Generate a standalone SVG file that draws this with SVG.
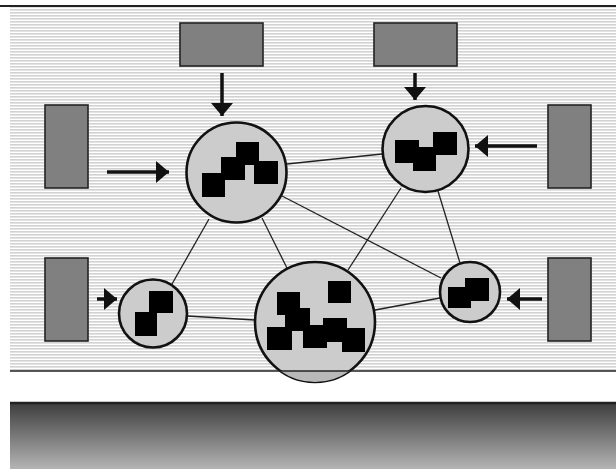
<svg xmlns="http://www.w3.org/2000/svg" width="616" height="469" viewBox="0 0 616 469">
<defs>
<pattern id="stripes" width="4" height="3" patternUnits="userSpaceOnUse">
<rect width="4" height="3" fill="#ffffff"/>
<rect y="0" width="4" height="1.6" fill="#d2d2d2"/>
</pattern>
<linearGradient id="band" x1="0" y1="0" x2="0" y2="1">
<stop offset="0" stop-color="#3c3c3c"/>
<stop offset="1" stop-color="#b4b4b4"/>
</linearGradient>
<marker id="head" markerUnits="userSpaceOnUse" markerWidth="13" markerHeight="22" refX="13" refY="11" orient="auto">
<path d="M0,0 L13,11 L0,22 Z" fill="#111"/>
</marker>
<style>
.src{fill:#808080;stroke:#222;stroke-width:1.6}
.node{fill:#cccccc;stroke:#111;stroke-width:2.6}
.blk{fill:#000}
.edge{stroke:#222;stroke-width:1.3;fill:none}
.arr{stroke:#111;stroke-width:3.5;fill:none;marker-end:url(#head)}
</style>
</defs>
<rect width="616" height="469" fill="#ffffff"/>
<rect x="10" y="7" width="606" height="364" fill="url(#stripes)"/>
<line x1="0" y1="6" x2="616" y2="6" stroke="#222" stroke-width="2"/>
<rect x="10" y="402" width="606" height="67" fill="url(#band)"/>
<line x1="10" y1="403" x2="616" y2="403" stroke="#222" stroke-width="2.5"/>

<g id="sources">
<rect id="src-top-left" class="src" x="180" y="23" width="83" height="43"/>
<rect id="src-top-right" class="src" x="374" y="23" width="83" height="43"/>
<rect id="src-left-top" class="src" x="45" y="105" width="43" height="83"/>
<rect id="src-right-top" class="src" x="548" y="105" width="43" height="83"/>
<rect id="src-left-bottom" class="src" x="45" y="258" width="43" height="83"/>
<rect id="src-right-bottom" class="src" x="548" y="258" width="43" height="83"/>
</g>

<g id="connectors">
<line class="edge" x1="287" y1="164" x2="382" y2="154"/>
<line class="edge" x1="209" y1="219" x2="172" y2="284"/>
<line class="edge" x1="262" y1="218" x2="287" y2="268"/>
<line class="edge" x1="282" y1="196" x2="441" y2="278"/>
<line class="edge" x1="401" y1="188" x2="348" y2="270"/>
<line class="edge" x1="438" y1="191" x2="460" y2="263"/>
<line class="edge" x1="187" y1="316" x2="255" y2="320"/>
<line class="edge" x1="375" y1="310" x2="440" y2="298"/>
<line class="arr" x1="222" y1="73" x2="222" y2="116"/>
<line class="arr" x1="107" y1="172" x2="169" y2="172"/>
<line class="arr" x1="415" y1="73" x2="415" y2="100"/>
<line class="arr" x1="537" y1="146" x2="475" y2="146"/>
<line class="arr" x1="97" y1="299" x2="117" y2="299"/>
<line class="arr" x1="542" y1="299" x2="507" y2="299"/>
</g>

<g id="node-1">
<circle class="node" cx="236.5" cy="172.5" r="50"/>
<rect class="blk" x="202" y="173" width="23" height="24"/>
<rect class="blk" x="221" y="157" width="24" height="23"/>
<rect class="blk" x="236" y="142" width="23" height="23"/>
<rect class="blk" x="254" y="161" width="24" height="23"/>
</g>

<g id="node-2">
<circle class="node" cx="425.5" cy="149" r="43"/>
<rect class="blk" x="395" y="140" width="24" height="23"/>
<rect class="blk" x="413" y="147" width="23" height="24"/>
<rect class="blk" x="433" y="132" width="24" height="23"/>
</g>

<g id="node-3">
<circle class="node" cx="153" cy="313.5" r="34"/>
<rect class="blk" x="149" y="291" width="24" height="22"/>
<rect class="blk" x="135" y="312" width="22" height="24"/>
</g>

<g id="node-4">
<circle class="node" cx="315" cy="322" r="60"/>
<path d="M280.4,371 A60,60 0 0 0 349.6,371 Z" fill="#b8b8b8"/>
<rect class="blk" x="328" y="281" width="23" height="22"/>
<rect class="blk" x="277" y="292" width="23" height="23"/>
<rect class="blk" x="285" y="308" width="25" height="23"/>
<rect class="blk" x="267" y="327" width="25" height="23"/>
<rect class="blk" x="303" y="325" width="24" height="23"/>
<rect class="blk" x="323" y="318" width="24" height="24"/>
<rect class="blk" x="342" y="328" width="23" height="24"/>
</g>

<g id="node-5">
<circle class="node" cx="470" cy="292" r="30"/>
<rect class="blk" x="448" y="287" width="23" height="21"/>
<rect class="blk" x="465" y="278" width="24" height="23"/>
</g>

<line x1="10" y1="371" x2="616" y2="371" stroke="#222" stroke-width="1.6"/>
</svg>
